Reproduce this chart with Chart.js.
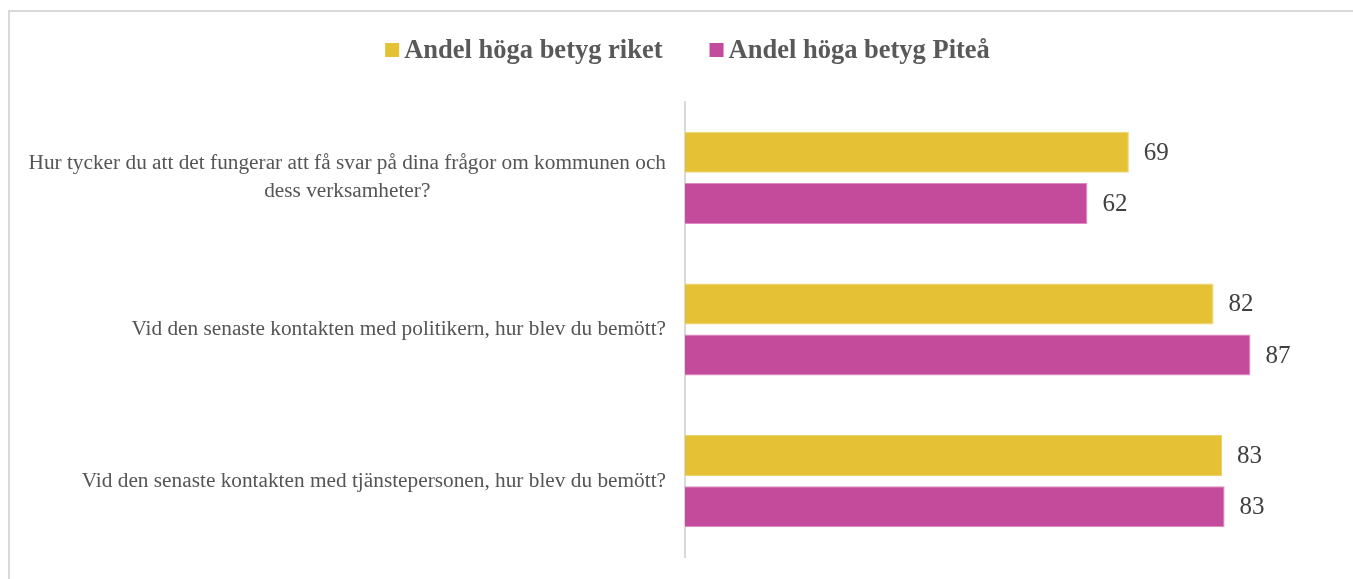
<!DOCTYPE html>
<html>
<head>
<meta charset="utf-8">
<script src="https://cdn.jsdelivr.net/npm/chart.js@4/dist/chart.umd.min.js"></script>
<style>
  html, body { margin: 0; padding: 0; background: #fff; }
  #wrap { position: absolute; left: 0; top: 0; width: 1353px; height: 579px; }
</style>
</head>
<body>
<div id="wrap"><canvas id="myChart"></canvas></div>
<script>
// data
var questions = [
  ['Hur tycker du att det fungerar att få svar på dina frågor om kommunen och', 'dess verksamheter?'],
  ['Vid den senaste kontakten med politikern, hur blev du bemött?'],
  ['Vid den senaste kontakten med tjänstepersonen, hur blev du bemött?']
];
var seriesNames = ['Andel höga betyg riket', 'Andel höga betyg Piteå'];
var riket = [68.6, 81.7, 83.0];
var pitea = [62.2, 87.4, 83.4];

var SERIF = '"Liberation Serif", "Times New Roman", serif';

// frame round the chart (only top and left edge visible)
var framePlugin = {
  id: 'frame',
  beforeDraw: function(chart) {
    var ctx = chart.ctx;
    ctx.save();
    ctx.strokeStyle = '#d9d9d9';
    ctx.lineWidth = 2;
    ctx.beginPath();
    ctx.moveTo(9, 579);
    ctx.lineTo(9, 11);
    ctx.lineTo(1353, 11);
    ctx.stroke();
    ctx.restore();
  }
};

// category labels: lines centred on each other, block right aligned
var catLabels = {
  id: 'catLabels',
  afterDraw: function(chart) {
    var ctx = chart.ctx;
    var scale = chart.scales.y;
    var right = chart.chartArea.left - 19;
    ctx.save();
    ctx.font = '21.3px ' + SERIF;
    ctx.fillStyle = '#555555';
    ctx.textAlign = 'center';
    ctx.textBaseline = 'middle';
    questions.forEach(function(lines, i) {
      var yc = scale.getPixelForTick(i);
      var maxW = 0;
      lines.forEach(function(l) { maxW = Math.max(maxW, ctx.measureText(l).width); });
      var cx = right - maxW / 2;
      lines.forEach(function(l, j) {
        ctx.fillText(l, cx, yc + (j - (lines.length - 1) / 2) * 28);
      });
    });
    ctx.restore();
  }
};

// value labels at bar ends
var valueLabels = {
  id: 'valueLabels',
  afterDatasetsDraw: function(chart) {
    var ctx = chart.ctx;
    ctx.save();
    ctx.font = '25px ' + SERIF;
    ctx.fillStyle = '#404040';
    ctx.textAlign = 'left';
    ctx.textBaseline = 'middle';
    chart.data.datasets.forEach(function(ds, di) {
      var meta = chart.getDatasetMeta(di);
      meta.data.forEach(function(bar, i) {
        ctx.fillText(String(Math.round(ds.data[i])), bar.x + 15, bar.y + 1);
      });
    });
    ctx.restore();
  }
};

// legend on top
var topLegend = {
  id: 'topLegend',
  afterDraw: function(chart) {
    var ctx = chart.ctx;
    ctx.save();
    ctx.font = 'bold 26.5px ' + SERIF;
    ctx.textBaseline = 'middle';
    ctx.textAlign = 'left';
    var box = 14, gap = 5, itemGap = 47;
    var widths = chart.data.datasets.map(function(ds) {
      return box + gap + ctx.measureText(ds.label).width;
    });
    var total = widths.reduce(function(a, b) { return a + b; }, 0) + itemGap * (widths.length - 1);
    var x = 687.5 - total / 2;
    var yc = 50;
    chart.data.datasets.forEach(function(ds, i) {
      ctx.fillStyle = ds.backgroundColor;
      ctx.fillRect(x, yc - box / 2, box, box);
      ctx.fillStyle = '#595959';
      ctx.fillText(ds.label, x + box + gap, yc + 1);
      x += widths[i] + itemGap;
    });
    ctx.restore();
  }
};

function createBarChart(ctxElementId) {
  var ctx = document.getElementById(ctxElementId);
  return new Chart(ctx, {
    type: 'bar',
    data: {
      labels: questions,
      datasets: [{
        label: seriesNames[0],
        data: riket,
        backgroundColor: '#E4C135',
        borderColor: '#EDD36E',
        borderWidth: 1
      }, {
        label: seriesNames[1],
        data: pitea,
        backgroundColor: '#C44A9B',
        borderColor: '#DC8CC2',
        borderWidth: 1
      }]
    },
    options: {
      indexAxis: 'y',
      responsive: true,
      maintainAspectRatio: false,
      animation: false,
      datasets: {
        bar: { categoryPercentage: 0.675, barPercentage: 0.8 }
      },
      layout: { padding: { left: 0, top: 102, right: 21, bottom: 22 } },
      plugins: {
        legend: { display: false },
        tooltip: { enabled: false }
      },
      scales: {
        x: { display: false, min: 0, max: 100 },
        y: {
          grid: { display: false },
          ticks: { display: false },
          border: { display: true, color: '#d9d9d9', width: 2 },
          afterFit: function(scale) { scale.width = 685; }
        }
      }
    },
    plugins: [framePlugin, catLabels, valueLabels, topLegend]
  });
}

createBarChart('myChart');
</script>
</body>
</html>
